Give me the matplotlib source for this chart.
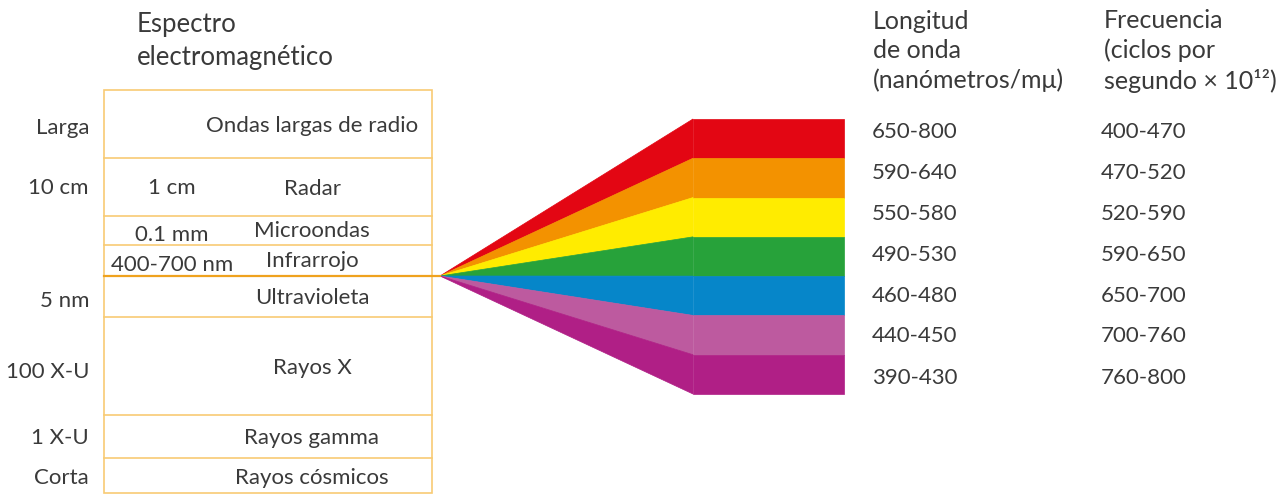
import matplotlib.pyplot as plt
from matplotlib.patches import Polygon, Rectangle

# spectrum table (left)
band_names = ['Ondas largas de radio', 'Radar', 'Microondas', 'Infrarrojo',
              'Ultravioleta', 'Rayos X', 'Rayos gamma', 'Rayos cósmicos']
band_edges = [90, 158, 216, 245, 276, 317, 415, 458, 493]
outer_labels = ['Larga', '10 cm', '5 nm', '100 X-U', '1 X-U', 'Corta']
outer_label_y = [126, 186, 299, 370, 436, 476]
inner_labels = ['1 cm', '0.1 mm', '400-700 nm']
inner_label_y = [186, 233, 263]

# visible light (right)
light_colors = ['#E30613', '#F39200', '#FFEC00', '#27A23A', '#0686C9', '#BD5A9F', '#B01F86']
wavelength = ['650-800', '590-640', '550-580', '490-530', '460-480', '440-450', '390-430']
frequency = ['400-470', '470-520', '520-590', '590-650', '650-700', '700-760', '760-800']

plt.rcParams['font.family'] = ['Lato', 'DejaVu Sans']
text_color = '#3a3a3a'
line_color = '#F8CB74'
fs = 16
dy = 2  # small baseline nudge

fig = plt.figure(figsize=(12.76, 4.95), dpi=100)
ax = fig.add_axes([0, 0, 1, 1])
ax.set_xlim(0, 1276)
ax.set_ylim(495, 0)
ax.axis('off')

# left box
box_x0, box_x1 = 104, 432
ax.add_patch(Rectangle((box_x0, band_edges[0]), box_x1 - box_x0, band_edges[-1] - band_edges[0],
                       fill=False, edgecolor=line_color, lw=1.2))
for y in band_edges[1:-1]:
    if y == 276:
        ax.plot([box_x0, box_x1 + 8], [y, y], color='#EFA21E', lw=1.6)
    else:
        ax.plot([box_x0, box_x1], [y, y], color=line_color, lw=1.2)

for i, name in enumerate(band_names):
    yc = (band_edges[i] + band_edges[i + 1]) / 2
    if name == 'Microondas':
        yc = 229
    if name == 'Infrarrojo':
        yc = 259
    ax.text(312, yc + dy, name, ha='center', va='center', fontsize=fs, color=text_color)

for lab, y in zip(outer_labels, outer_label_y):
    ax.text(89, y + dy, lab, ha='right', va='center', fontsize=fs, color=text_color)
for lab, y in zip(inner_labels, inner_label_y):
    ax.text(172, y + dy, lab, ha='center', va='center', fontsize=fs, color=text_color)

ax.text(137, 41, 'Espectro\nelectromagnético', ha='left', va='center', fontsize=18.5,
        color=text_color, linespacing=1.4)

# fan of visible light
apex = (440, 276)
x_mid, x_right = 693, 844
top, bottom = 119, 394
h = (bottom - top) / len(light_colors)
for i, c in enumerate(light_colors):
    y0 = top + i * h
    y1 = y0 + h
    ax.add_patch(Polygon([apex, (x_mid, y0), (x_mid, y1)], closed=True, facecolor=c, edgecolor=c, lw=0.5))
    ax.add_patch(Rectangle((x_mid, y0), x_right - x_mid, h, facecolor=c, edgecolor=c, lw=0.5))

ax.text(873, 51, 'Longitud\nde onda\n(nanómetros/mμ)', ha='left', va='center', fontsize=18,
        color=text_color, linespacing=1.32)
ax.text(1104, 51, 'Frecuencia\n(ciclos por\nsegundo × 10¹²)', ha='left', va='center', fontsize=18,
        color=text_color, linespacing=1.32)

row_y = [130, 171, 212, 253, 294, 334, 376]
for w, f, y in zip(wavelength, frequency, row_y):
    ax.text(872, y + dy, w, ha='left', va='center', fontsize=fs, color=text_color)
    ax.text(1101, y + dy, f, ha='left', va='center', fontsize=fs, color=text_color)

fig.savefig('out.png', dpi=100, facecolor='white')
